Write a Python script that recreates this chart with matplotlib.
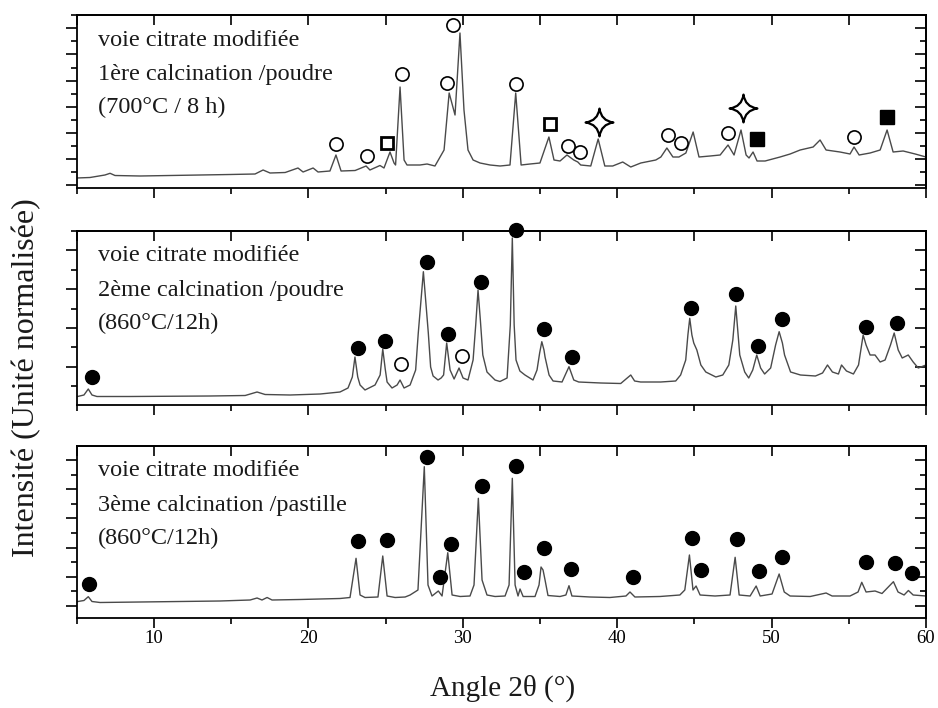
import matplotlib
matplotlib.use('Agg')
import matplotlib.pyplot as plt
from matplotlib.ticker import MultipleLocator, NullFormatter
from matplotlib.path import Path

plt.rcParams['font.family'] = ['Liberation Serif', 'DejaVu Serif']

# ---------------- data (2theta in degrees, intensity in arbitrary units) ----------------
x1 = [5.0, 5.86, 6.83, 7.16, 7.48, 9.1, 11.04, 13.0, 14.93, 16.55, 17.07, 17.52, 18.5, 19.33, 19.66,
      20.31, 20.63, 21.4, 21.79, 22.12, 23.03, 23.74, 23.99, 24.64, 24.9, 25.29, 25.55, 25.65, 25.94,
      26.2, 26.39, 27.23, 27.69, 28.2, 28.79, 29.12, 29.5, 29.82, 30.08, 30.34, 30.67, 31.12, 31.77,
      32.42, 33.06, 33.43, 33.78, 34.36, 35.0, 35.58, 35.91, 36.3, 36.75, 37.19, 37.45, 37.64, 38.29,
      38.77, 39.2, 39.71, 40.36, 40.88, 41.53, 42.5, 42.83, 43.22, 43.61, 44.0, 44.45, 44.92, 45.3,
      46.02, 46.67, 47.18, 47.57, 48.02, 48.35, 48.54, 48.8, 49.06, 49.58, 50.55, 51.2, 51.85, 52.69,
      53.14, 53.53, 54.43, 55.08, 55.34, 55.67, 56.38, 57.03, 57.48, 57.87, 58.52, 59.3, 60.0]
y1 = [9.7, 10.2, 12.7, 14.4, 12.2, 11.7, 12.2, 12.7, 13.2, 13.7, 17.7, 14.7, 15.2, 19.7, 15.7,
      19.7, 15.7, 16.7, 32.7, 16.7, 17.2, 21.7, 17.7, 22.2, 19.7, 35.7, 24.7, 22.7, 100.7,
      27.7, 22.7, 22.7, 23.7, 21.7, 37.7, 94.7, 72.7, 154.7, 77.7, 37.7, 27.7, 24.7, 22.7,
      21.7, 22.7, 94.7, 22.7, 23.7, 24.7, 50.7, 27.7, 26.7, 32.7, 27.7, 25.7, 22.7, 21.7,
      48.7, 21.7, 21.7, 25.7, 20.7, 24.7, 27.7, 30.7, 39.7, 30.7, 30.7, 34.7, 55.7, 30.7,
      31.7, 32.7, 42.7, 32.7, 57.7, 32.7, 29.7, 35.7, 26.7, 26.7, 30.7, 33.7, 37.7, 40.7,
      47.7, 37.7, 35.7, 33.7, 40.7, 32.7, 34.7, 37.7, 57.7, 35.7, 36.7, 33.7, 30.7]

x2 = [5.0, 5.47, 5.75, 5.99, 6.31, 8.45, 11.04, 13.64, 15.91, 16.68, 17.2, 18.82, 20.77, 22.05, 22.57,
      22.85, 23.02, 23.2, 23.35, 23.67, 24.32, 24.65, 24.82, 24.98, 25.1, 25.42, 25.75, 25.94, 26.2,
      26.59, 26.95, 27.12, 27.45, 27.77, 27.92,
      28.08, 28.4, 28.6, 28.76, 28.96, 29.18, 29.44, 29.76, 30.02, 30.34, 30.67, 30.84, 30.99, 31.14,
      31.3, 31.57, 32.09, 32.41, 32.87, 33.08, 33.21, 33.33, 33.45, 33.7, 34.03, 34.55, 34.81, 34.98,
      35.12, 35.26, 35.33, 35.59, 35.85, 36.43,
      36.88, 37.19, 37.51, 38.94, 40.23, 40.88, 41.13, 41.52, 42.82, 43.79, 44.11, 44.44, 44.58, 44.7,
      44.84, 44.96, 45.16, 45.42, 45.74, 46.39, 46.84, 47.23, 47.49, 47.6, 47.68, 47.78, 47.94, 48.26,
      48.52, 48.78, 49.04, 49.29,
      49.55, 49.94, 50.26, 50.49, 50.7, 50.84, 51.23, 51.87, 52.84, 53.3, 53.62, 53.94, 54.33, 54.53,
      54.85, 55.3, 55.63, 55.93, 56.12, 56.38, 56.7, 57.03, 57.35, 57.7, 57.94, 58.2, 58.46, 58.85,
      59.17, 59.5, 60.0]
y2 = [8.3, 10, 16, 10, 8.5, 8.5, 8.7, 9, 9.5, 13, 10.5, 10, 11, 13, 17,
      28, 48, 28, 20, 15, 20, 30, 56, 36, 23, 17, 20, 25, 17,
      20, 35, 72, 133.3, 72, 38,
      29, 25, 27, 30, 62, 35, 26, 37, 27, 25, 45, 80, 115, 85,
      50, 33, 25, 23.5, 27, 80, 167, 80, 45, 34, 30, 25, 35, 52,
      63.3, 55, 48, 30, 24, 23,
      38.3, 25, 23, 22, 21.5, 30, 24, 23, 23, 24, 30, 45, 70, 86.7,
      70, 62, 55, 40, 33, 28, 30, 40, 65, 85, 99, 80, 50, 33,
      27, 35, 50, 37,
      31, 37, 60, 73.3, 62, 50, 33, 30, 29, 32, 40, 33, 31, 40,
      34, 31, 40, 70, 60, 50, 50, 43, 45, 60, 72, 55, 47, 50,
      43, 37, 40]

x3 = [5.0, 5.47, 5.75, 5.99, 6.51, 9.1, 11.69, 14.28, 16.23, 16.68, 17.0, 17.33, 17.65, 19.46, 22.05,
      22.7, 23.09, 23.35, 23.67, 24.51, 24.82, 25.1, 25.62, 26.27, 26.59, 27.1, 27.51, 27.75, 28.01,
      28.42, 28.66, 29.03, 29.31, 29.83, 30.47, 30.73, 31.01, 31.25, 31.57, 32.09, 32.74, 33.0, 33.21,
      33.39, 33.58, 33.71, 33.91, 34.68, 34.94, 35.07, 35.2, 35.33, 35.52, 36.3, 36.68, 36.88, 37.07,
      38.24, 39.53, 40.57, 40.83, 41.15, 42.77, 44.06, 44.38, 44.68, 44.91, 45.11, 45.37, 46.34, 47.31,
      47.64, 47.9, 48.61, 49.0, 49.26, 50.03, 50.49, 50.82, 51.2, 52.5, 53.53, 53.92, 55.08, 55.6,
      55.84, 56.12, 56.7, 57.15, 57.89, 58.19, 58.58, 58.86, 59.17, 60.0]
y3 = [16, 17.2, 21, 16.2, 15.2, 15.7, 16.2, 16.7, 17.7, 19.7, 17.7, 20.2, 17.7, 18.2, 19.2,
      20.2, 59.4, 22.7, 20.2, 20.7, 61.7, 21.7, 20.2, 20.7, 22.7, 27.7, 151, 32.7, 21.7,
      26.7, 21.7, 65, 22.7, 21.2, 21.7, 32.7, 119.4, 37.7, 22.7, 21.2, 21.7, 32.7, 139.4,
      32.7, 21.7, 28.7, 21.2, 21.2, 32.7, 50.7, 47.7, 37.7, 22.2, 21.2, 22.7, 32, 21.7,
      20.7, 20.2, 21.7, 25.7, 20.7, 21.2, 22.7, 27.7, 62.7, 27.7, 31.7, 22.7, 21.7, 22.7,
      60.4, 22.7, 21.7, 31.7, 21.7, 23.7, 43.7, 25.7, 21.7, 21.2, 24.7, 21.7, 21.7, 25.7,
      35.4, 25.7, 26.7, 24.2, 36, 25.7, 22.7, 27.2, 22.7, 21.7]

# phase markers (position, intensity)
p1_circle_x = [21.79, 23.78, 26.05, 28.96, 29.35, 33.43, 36.8, 37.6, 43.26, 44.13, 47.16, 55.34]
p1_circle_y = [43.7, 31.7, 113.7, 104.7, 162.7, 103.7, 41.7, 35.7, 52.7, 44.7, 54.7, 50.7]
p1_osquare_x = [25.08, 35.65]
p1_osquare_y = [44.7, 63.7]
p1_star_x = [38.83, 48.13]
p1_star_y = [65.7, 79.7]
p1_fsquare_x = [49.04, 57.48]
p1_fsquare_y = [48.7, 70.7]

p2_dot_x = [5.97, 23.2, 24.97, 27.67, 29.05, 31.18, 33.43, 35.28, 37.06, 44.77, 47.7, 49.15, 50.7, 56.1, 58.11]
p2_dot_y = [28, 57.3, 64.3, 143.3, 71, 123, 175, 75.7, 47.7, 97, 111, 59.3, 86, 78.3, 81.7]
p2_circle_x = [25.98, 29.94]
p2_circle_y = [41, 49]

p3_dot_x = [5.82, 23.24, 25.08, 27.67, 28.53, 29.22, 31.27, 33.43, 33.99, 35.28, 37.04, 41.01,
            44.87, 45.41, 47.79, 49.17, 50.7, 56.1, 58.0, 59.08]
p3_dot_y = [33.7, 77, 77.7, 160.4, 41, 73.7, 131.7, 152, 45.4, 69.4, 48.4, 41,
            80, 47.7, 78.7, 47, 60.4, 55.4, 55, 45]

labels1 = ["voie citrate modifiée", "1ère calcination /poudre", "(700°C / 8 h)"]
labels2 = ["voie citrate modifiée", "2ème calcination /poudre", "(860°C/12h)"]
labels3 = ["voie citrate modifiée", "3ème calcination /pastille", "(860°C/12h)"]
xticks = [10, 20, 30, 40, 50, 60]

# ---------------- figure ----------------
W, H = 938, 708
fig = plt.figure(figsize=(W / 100, H / 100), dpi=100)

left_px, right_px = 76.7, 926.0
panels = [  # top px, bottom px, tick base, tick offset
    (15.0, 187.7, 26.1, 2.7),
    (230.7, 405.0, 38.8, 38.3),
    (445.7, 617.7, 29.2, 11.7),
]

star_path = Path(
    [(0, 1), (0.12, 0.12), (1, 0), (0.12, -0.12), (0, -1), (-0.12, -0.12), (-1, 0), (-0.12, 0.12), (0, 1), (0, 1)],
    [Path.MOVETO, Path.CURVE3, Path.CURVE3, Path.CURVE3, Path.CURVE3, Path.CURVE3, Path.CURVE3,
     Path.CURVE3, Path.CURVE3, Path.CLOSEPOLY])

axes = []
for i, (tp, bp, base, off) in enumerate(panels):
    ax = fig.add_axes([left_px / W, 1 - bp / H, (right_px - left_px) / W, (bp - tp) / H])
    ax.set_xlim(5, 60)
    ax.set_ylim(0, bp - tp)
    for s in ax.spines.values():
        s.set_linewidth(1.3)
    ax.xaxis.set_major_locator(MultipleLocator(10))
    ax.xaxis.set_minor_locator(MultipleLocator(5))
    ax.yaxis.set_major_locator(MultipleLocator(base, offset=off))
    ax.yaxis.set_minor_locator(MultipleLocator(base / 2, offset=off % (base / 2)))
    ax.yaxis.set_major_formatter(NullFormatter())
    ax.tick_params(which='both', direction='out', top=False, right=False, width=1.2, colors='black')
    ax.tick_params(axis='y', which='major', length=8)
    ax.tick_params(axis='y', which='minor', length=4.5)
    ax.tick_params(axis='x', which='major', length=7)
    ax.tick_params(axis='x', which='minor', length=4)
    ax.tick_params(axis='x', labelsize=13.5, pad=1.5)
    if i < 2:
        ax.tick_params(axis='x', labelbottom=False)
    sx = ax.secondary_xaxis('top')
    sx.xaxis.set_major_locator(MultipleLocator(5))
    sx.tick_params(which='both', direction='in', labeltop=False, width=1.2)
    sx.tick_params(which='major', length=7)
    sx.tick_params(which='minor', length=0)
    sy = ax.secondary_yaxis('right')
    sy.yaxis.set_major_locator(MultipleLocator(base, offset=off))
    sy.yaxis.set_minor_locator(MultipleLocator(base / 2, offset=off % (base / 2)))
    sy.tick_params(which='both', direction='in', labelright=False, width=1.2)
    sy.tick_params(which='major', length=8)
    sy.tick_params(which='minor', length=4.5)
    for s in list(sx.spines.values()) + list(sy.spines.values()):
        s.set_linewidth(1.3)
    axes.append(ax)

ax1, ax2, ax3 = axes
ax3.set_xticks(xticks)
ax3.set_xticklabels([str(t) for t in xticks])

line_kw = dict(color='#4a4a4a', lw=1.0)
ax1.plot(x1, y1, **line_kw)
ax2.plot(x2, y2, **line_kw)
ax3.plot(x3, y3, **line_kw)

open_c = dict(ls='none', marker='o', ms=9.5, mfc='white', mec='black', mew=1.2, clip_on=False, zorder=5)
dot = dict(ls='none', marker='o', ms=10, mfc='black', mec='black', clip_on=False, zorder=5)
ax1.plot(p1_circle_x, p1_circle_y, **open_c)
ax1.plot(p1_osquare_x, p1_osquare_y, ls='none', marker='s', ms=8.5, mfc='white', mec='black', mew=2.0,
         clip_on=False, zorder=5)
ax1.plot(p1_star_x, p1_star_y, ls='none', marker=star_path, ms=20, mfc='white', mec='black', mew=1.6,
         clip_on=False, zorder=5)
ax1.plot(p1_fsquare_x, p1_fsquare_y, ls='none', marker='s', ms=10, mfc='black', mec='black',
         clip_on=False, zorder=5)
ax2.plot(p2_dot_x, p2_dot_y, **dot)
ax2.plot(p2_circle_x, p2_circle_y, **open_c)
ax3.plot(p3_dot_x, p3_dot_y, **dot)

for ax, labs, (tp, bp, base, off) in zip(axes, [labels1, labels2, labels3], panels):
    h = bp - tp
    for k, txt in enumerate(labs):
        d = [30.5, 65.0, 98.5][k]
        ax.text((98.3 - left_px) / (right_px - left_px), 1 - d / h, txt, transform=ax.transAxes,
                fontsize=17.5, va='baseline', ha='left', color='#1a1a1a')

fig.text(27 / W, 1 - 378 / H, "Intensité (Unité normalisée)", rotation=90, fontsize=23,
         ha='center', va='center', color='#1a1a1a')
fig.text(503 / W, 1 - 688 / H, "Angle 2θ (°)", fontsize=21, ha='center', va='center', color='#1a1a1a')

fig.savefig('out.png', dpi=100)
